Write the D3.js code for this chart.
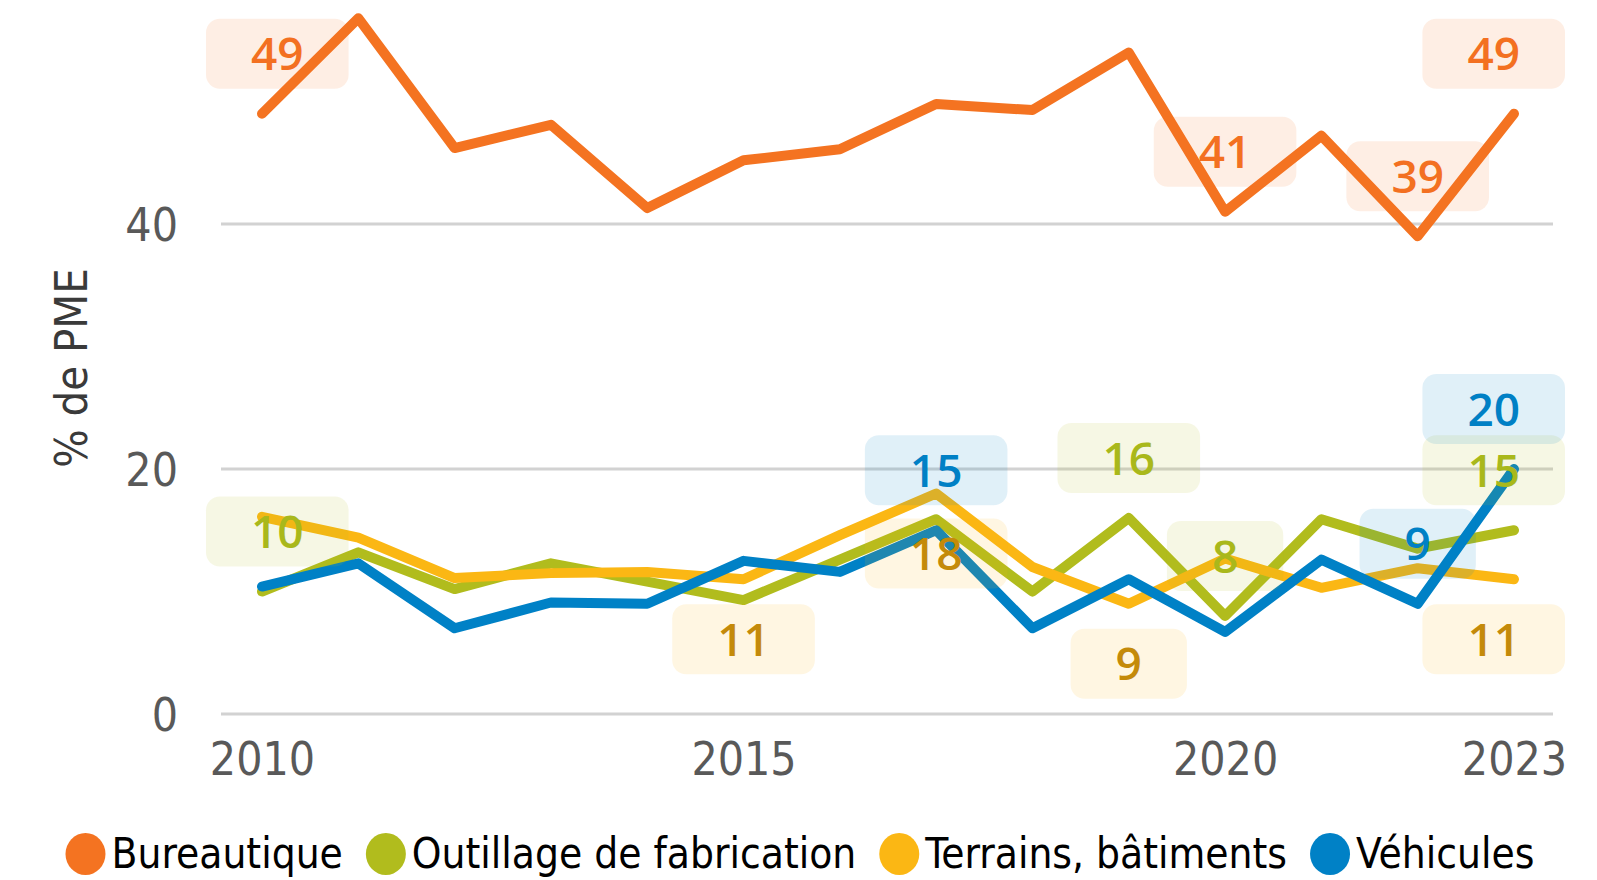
<!DOCTYPE html>
<html lang="fr">
<head>
<meta charset="utf-8">
<title>Investissements des PME</title>
<script src="https://cdn.jsdelivr.net/npm/d3@7"></script>
<style>
  html, body { margin: 0; padding: 0; background: #fff; }
  svg { display: block; }
</style>
</head>
<body>
<svg id="chart" width="1597" height="880"></svg>
<script>
// Années observées
const years = [2010, 2011, 2012, 2013, 2014, 2015, 2016, 2017, 2018, 2019, 2020, 2021, 2022, 2023];

// Part des PME ayant investi (%) par type d'investissement
const bureautique = [49, 56.8, 46.2, 48.1, 41.3, 45.2, 46.1, 49.8, 49.3, 54, 41, 47.2, 39, 49];
const outillage   = [10, 13.2, 10.2, 12.3, 10.8, 9.3, 12.6, 15.9, 10, 16, 8, 15.9, 13.5, 15];
const terrains    = [16.1, 14.4, 11.1, 11.5, 11.6, 11, 14.6, 18, 12, 9, 12.7, 10.3, 11.9, 11];
const vehicules   = [10.4, 12.3, 7, 9.1, 9, 12.5, 11.6, 15, 7, 11, 6.7, 12.6, 9, 20];

const seriesNames = ["Bureautique", "Outillage de fabrication", "Terrains, bâtiments", "Véhicules"];

// Graduations
const yTicks = [0, 20, 40];
const xTicks = [2010, 2015, 2020, 2023];
const yTitle = "% de PME";

// Points étiquetés : série, année
const labelled = [
  [0, 2010], [0, 2020], [0, 2022], [0, 2023],
  [1, 2010], [1, 2019], [1, 2020], [1, 2023],
  [2, 2015], [2, 2017], [2, 2019], [2, 2023],
  [3, 2017], [3, 2022], [3, 2023]
];

// ---- styles ----
const lineColors  = ["#F47321", "#B1BC1D", "#FBB714", "#0081C6"];
const labelColors = ["#F37021", "#A9B81B", "#C48A0A", "#0080C5"];
const labelBelow  = [false, false, true, false];   // placement des étiquettes par série
const axisFont = "'Liberation Sans Narrow', 'DejaVu Sans Condensed', sans-serif";
const legendFont = "'DejaVu Sans Condensed', 'DejaVu Sans', sans-serif";
const labelFont = "'Open Sans', 'Lato', sans-serif";

const allSeries = [bureautique, outillage, terrains, vehicules];

const svg = d3.select("#chart");

const x = d3.scaleLinear().domain([2010, 2023]).range([262, 1514]);
const y = d3.scaleLinear().domain([0, 60]).range([714, -21]);
const plotLeft = 221, plotRight = 1553;

// Quadrillage horizontal
svg.append("g")
  .selectAll("line")
  .data(yTicks)
  .join("line")
  .attr("x1", plotLeft).attr("x2", plotRight)
  .attr("y1", d => y(d)).attr("y2", d => y(d))
  .attr("stroke", "#D2D2D2")
  .attr("stroke-width", 3);

// Axe vertical (libellés seuls)
const yAxis = svg.append("g")
  .attr("transform", `translate(${plotLeft - 43},0)`)
  .call(d3.axisLeft(y).tickValues(yTicks).tickSize(0).tickPadding(0).tickFormat(d3.format("d")));
yAxis.select(".domain").remove();
yAxis.selectAll("text")
  .attr("font-family", axisFont)
  .attr("font-size", 46)
  .attr("fill", "#595959")
  .attr("dy", "0.36em");

// Axe horizontal (libellés seuls)
const xAxis = svg.append("g")
  .attr("transform", `translate(0,${y(0) + 28})`)
  .call(d3.axisBottom(x).tickValues(xTicks).tickSize(0).tickPadding(0).tickFormat(d3.format("d")));
xAxis.select(".domain").remove();
xAxis.selectAll("text")
  .attr("font-family", axisFont)
  .attr("font-size", 46)
  .attr("fill", "#595959")
  .attr("dy", "0.71em");

// Titre de l'axe vertical
svg.append("text")
  .attr("transform", `translate(${87},${368}) rotate(-90)`)
  .attr("text-anchor", "middle")
  .attr("font-family", axisFont)
  .attr("font-size", 45)
  .attr("fill", "#3A3A3A")
  .text(yTitle);

// Courbes
const line = d3.line()
  .x((d, i) => x(years[i]))
  .y(d => y(d));

svg.append("g")
  .selectAll("path")
  .data(allSeries)
  .join("path")
  .attr("d", d => line(d))
  .attr("fill", "none")
  .attr("stroke", (d, i) => lineColors[i])
  .attr("stroke-width", 10)
  .attr("stroke-linejoin", "round")
  .attr("stroke-linecap", "round");

// Étiquettes de valeurs
const fmt = d3.format(".0f");
const labelLayer = svg.append("g");
const boxH = 70, padX = 45, offset = 60;
const boxMin = 206, boxMax = 1565;

labelled.forEach(([s, yr]) => {
  const i = years.indexOf(yr);
  const v = allSeries[s][i];
  const px = x(yr), py = y(v);
  const cy = labelBelow[s] ? py + offset : py - offset;
  const g = labelLayer.append("g");
  const rect = g.append("rect");
  const t = g.append("text")
    .attr("font-family", labelFont)
    .attr("font-weight", 600)
    .attr("font-size", 46)
    .attr("fill", labelColors[s])
    .attr("text-anchor", "middle")
    .attr("dy", "0.36em")
    .text(fmt(v));
  const w = t.node().getComputedTextLength() + 2 * padX;
  let left = px - w / 2;
  left = Math.max(boxMin, Math.min(boxMax - w, left));
  rect.attr("x", left).attr("y", cy - boxH / 2)
    .attr("width", w).attr("height", boxH)
    .attr("rx", 14).attr("ry", 14)
    .attr("fill", lineColors[s])
    .attr("fill-opacity", 0.12);
  t.attr("x", left + w / 2).attr("y", cy);
});

// Légende
const legend = svg.append("g");
let lx = 0;
seriesNames.forEach((name, i) => {
  const g = legend.append("g").attr("transform", `translate(${lx},0)`);
  g.append("ellipse")
    .attr("cx", 20).attr("cy", -14)
    .attr("rx", 20).attr("ry", 21)
    .attr("fill", lineColors[i]);
  const t = g.append("text")
    .attr("x", 46).attr("y", 0)
    .attr("font-family", legendFont)
    .attr("font-size", 42)
    .attr("fill", "#000")
    .text(name);
  const w = 46 + t.node().getComputedTextLength();
  lx += w + 23;
});
const legendW = lx - 23;
legend.attr("transform", `translate(${800 - legendW / 2},868)`);
</script>
</body>
</html>
